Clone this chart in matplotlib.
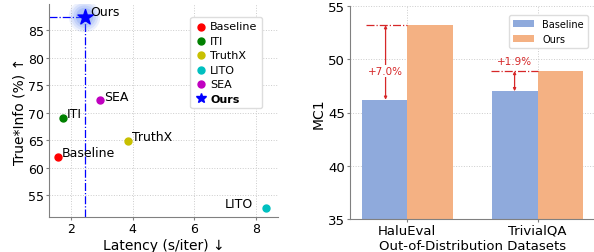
import matplotlib
matplotlib.use("Agg")
import matplotlib.pyplot as plt
from matplotlib.lines import Line2D
import numpy as np

# left panel: latency vs True*Info
methods = ["Baseline", "ITI", "TruthX", "LITO", "SEA"]
latency = [1.6, 1.75, 3.85, 8.3, 2.95]
true_info = [62.0, 69.0, 64.8, 52.6, 72.3]
colors = ["red", "green", "#c8c000", "#00c0c0", "#c000c0"]
ours_latency = 2.45
ours_true_info = 87.5

# right panel: OOD MC1
datasets = ["HaluEval", "TrivialQA"]
mc1_baseline = [46.2, 47.0]
mc1_ours = [53.2, 48.9]
gains = ["+7.0%", "+1.9%"]

fig = plt.figure(figsize=(5.94, 2.53), dpi=100)
ax1 = fig.add_axes([49 / 594, 35 / 253, 229 / 594, 213 / 253])
ax2 = fig.add_axes([350 / 594, 33 / 253, 245 / 594, 213 / 253])

# ---- left
for m, x, y, c in zip(methods, latency, true_info, colors):
    ax1.scatter(x, y, s=25, color=c, zorder=3, label=m)

# glow around our star
for s, a in [(520, 0.1), (380, 0.12), (260, 0.15), (160, 0.2)]:
    ax1.scatter(ours_latency, ours_true_info, s=s, color="#4f7cf0", alpha=a,
                edgecolors="none", zorder=3)
ax1.scatter(ours_latency, ours_true_info, s=130, marker="*", color="blue", zorder=4)

ax1.set_xlim(1.3, 8.7)
ax1.set_ylim(51, 89.8)
ax1.plot([1.3, ours_latency], [ours_true_info, ours_true_info], color="blue",
         ls="-.", lw=0.9, zorder=2)
ax1.plot([ours_latency, ours_latency], [51, ours_true_info], color="blue",
         ls="-.", lw=0.9, zorder=2)

offsets = {"Baseline": (0.12, 0.8, "left"), "ITI": (0.12, 0.9, "left"),
           "TruthX": (0.13, 0.8, "left"), "LITO": (-0.4, 0.9, "right"),
           "SEA": (0.13, 0.6, "left")}
for m, x, y in zip(methods, latency, true_info):
    dx, dy, ha = offsets[m]
    ax1.text(x + dx, y + dy, m, fontsize=9, ha=ha, va="center")
ax1.text(ours_latency + 0.17, ours_true_info + 0.9, "Ours", fontsize=9,
         ha="left", va="center")

ax1.set_xticks([2, 4, 6, 8])
ax1.set_yticks([55, 60, 65, 70, 75, 80, 85])
ax1.tick_params(labelsize=9, length=2, pad=1.5, color="gray")
ax1.grid(True, ls=":", color="#cccccc", lw=0.7)
ax1.set_axisbelow(True)
for sp in ["top", "right"]:
    ax1.spines[sp].set_visible(False)
for sp in ["left", "bottom"]:
    ax1.spines[sp].set_color("gray")
ax1.set_xlabel("Latency (s/iter) \u2193", fontsize=10, labelpad=2.5)
ax1.set_ylabel("True*Info (%) \u2191", fontsize=10, labelpad=1)

handles, labels = ax1.get_legend_handles_labels()
star = Line2D([], [], marker="*", color="blue", ls="none", markersize=7)
handles.append(star)
labels.append("Ours")
leg = ax1.legend(handles, labels, loc="upper right", fontsize=8,
                 bbox_to_anchor=(0.955, 0.965), handletextpad=0.2,
                 borderpad=0.4, labelspacing=0.4, handlelength=1.2,
                 framealpha=1, edgecolor="#dddddd")
leg.get_texts()[-1].set_fontweight("bold")

# ---- right
x = np.arange(len(datasets))
w = 0.35
ax2.bar(x - w / 2, mc1_baseline, w, color="#8faadc", label="Baseline", zorder=2)
ax2.bar(x + w / 2, mc1_ours, w, color="#f4b183", label="Ours", zorder=2)
ax2.set_ylim(35, 55)
ax2.set_xlim(-0.44, 1.44)
ax2.set_xticks(x)
ax2.set_xticklabels(datasets)
ax2.set_yticks([35, 40, 45, 50, 55])
ax2.tick_params(labelsize=9.5, length=2, pad=1.5, color="gray")
ax2.grid(True, ls=":", color="#cccccc", lw=0.7)
ax2.set_axisbelow(True)
for sp in ["top", "right"]:
    ax2.spines[sp].set_visible(False)
for sp in ["left", "bottom"]:
    ax2.spines[sp].set_color("gray")
ax2.set_ylabel("MC1", fontsize=10, labelpad=2)
ax2.set_xlabel("Out-of-Distribution Datasets", fontsize=9.5, labelpad=1.5)
ax2.legend(loc="upper right", fontsize=7, handlelength=2.2,
           bbox_to_anchor=(0.99, 0.98), framealpha=1, edgecolor="#dddddd")

# gain annotations
arrow_x = [-0.167, -0.177]
line_x0 = [-0.32, -0.36]
text_y = [48.9, 49.8]
for i in range(len(datasets)):
    ax2.plot([x[i] + line_x0[i], x[i]], [mc1_ours[i], mc1_ours[i]],
             color="#d62728", ls="-.", lw=0.9, zorder=3)
    ax2.annotate("", xy=(x[i] + arrow_x[i], mc1_baseline[i]),
                 xytext=(x[i] + arrow_x[i], mc1_ours[i]),
                 arrowprops=dict(arrowstyle="<|-|>", color="#d62728", lw=0.9,
                                 mutation_scale=4, shrinkA=0, shrinkB=0),
                 zorder=3)
    tx = x[i] + arrow_x[i]
    bg = dict(facecolor="white", edgecolor="none", pad=1) if i == 0 else None
    ax2.text(tx, text_y[i], gains[i], color="#d62728", fontsize=7.5,
             ha="center", va="center", bbox=bg, zorder=4)

fig.savefig("out.png", dpi=100)
